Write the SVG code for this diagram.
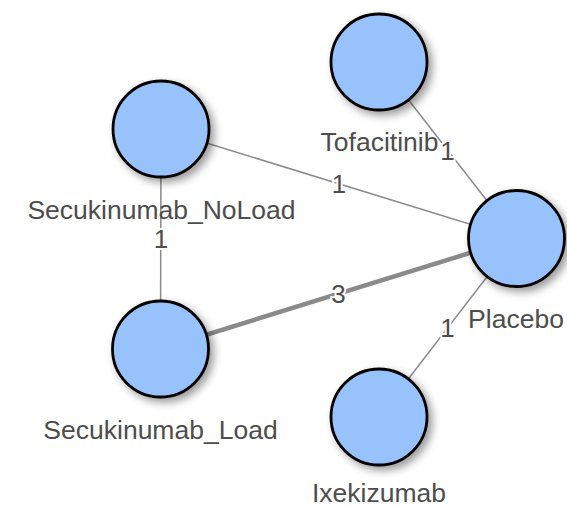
<svg xmlns="http://www.w3.org/2000/svg" width="567" height="509" viewBox="0 0 567 509">
<defs>
<filter id="sh" x="-30%" y="-30%" width="170%" height="170%">
<feGaussianBlur in="SourceAlpha" stdDeviation="4"/>
<feOffset dx="4" dy="4" result="b"/>
<feComponentTransfer><feFuncA type="linear" slope="0.4"/></feComponentTransfer>
<feMerge><feMergeNode/><feMergeNode in="SourceGraphic"/></feMerge>
</filter>
<style>
.n{fill:#97C2FC;stroke:#000;stroke-width:2.8;filter:url(#sh)}
.nl{font-family:"Liberation Sans",Arial,sans-serif;font-size:26.5px;fill:#4d4d4d;text-anchor:middle}
.e{stroke:#8a8a8a;stroke-width:1.5;fill:none}
.e3{stroke:#8a8a8a;stroke-width:4.5;fill:none}
.el{font-family:"Liberation Sans",Arial,sans-serif;font-size:26px;fill:#4d4d4d;text-anchor:middle;dominant-baseline:central;stroke:#fff;stroke-width:4;paint-order:stroke}
</style>
</defs>
<rect width="567" height="509" fill="#fff"/>
<g id="edges">
<line class="e" x1="379" y1="62" x2="516.5" y2="238.5"/>
<line class="e" x1="161" y1="129" x2="516.5" y2="238.5"/>
<line class="e" x1="161" y1="129" x2="160.5" y2="349"/>
<line class="e3" x1="160.5" y1="349" x2="516.5" y2="238.5"/>
<line class="e" x1="379" y1="417" x2="516.5" y2="238.5"/>
<text class="el" x="447.5" y="150.5">1</text>
<text class="el" x="339" y="184">1</text>
<text class="el" x="161" y="239">1</text>
<text class="el" x="338.5" y="294">3</text>
<text class="el" x="447.5" y="328">1</text>
</g>
<g id="Tofacitinib">
<circle class="n" cx="379" cy="62" r="48"/>
<text class="nl" x="379.5" y="151">Tofacitinib</text>
</g>
<g id="Secukinumab_NoLoad">
<circle class="n" cx="161" cy="129" r="48"/>
<text class="nl" x="161.5" y="219">Secukinumab_NoLoad</text>
</g>
<g id="Placebo">
<circle class="n" cx="516.5" cy="238.5" r="48"/>
<text class="nl" x="516" y="328">Placebo</text>
</g>
<g id="Secukinumab_Load">
<circle class="n" cx="160.5" cy="349" r="48"/>
<text class="nl" x="160.5" y="439">Secukinumab_Load</text>
</g>
<g id="Ixekizumab">
<circle class="n" cx="379" cy="417" r="48"/>
<text class="nl" x="379" y="502">Ixekizumab</text>
</g>
</svg>
